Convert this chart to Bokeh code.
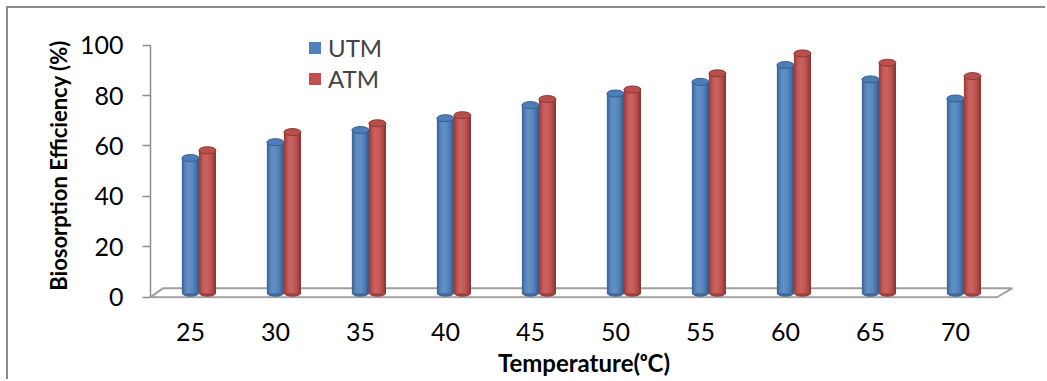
import numpy as np
from bokeh.plotting import figure
from bokeh.models import Range1d, Legend, LegendItem, FixedTicker
from bokeh.embed import file_html
from bokeh.resources import INLINE

# ---- data ----
temperatures = ["25", "30", "35", "40", "45", "50", "55", "60", "65", "70"]
utm = [55.2, 61.5, 66.3, 71.0, 76.2, 80.8, 85.4, 92.1, 86.4, 78.8]
atm = [58.3, 65.5, 69.0, 72.2, 78.6, 82.4, 88.8, 96.7, 93.0, 87.7]
y_ticks = [0, 20, 40, 60, 80, 100]

FONT = "Lato"
BLUE = "#4F81BD"
RED = "#C0504D"
GRAY = "#8C8C8C"

p = figure(width=1039, height=373, output_backend="svg", toolbar_location=None,
           x_range=Range1d(-0.47, 9.73), y_range=Range1d(-0.5, 105),
           min_border_left=142, min_border_right=30, min_border_top=24,
           min_border_bottom=83)
p.styles = {"border-left": "2px solid #8A8A8A", "border-top": "2px solid #8A8A8A",
            "margin-left": "6px", "margin-top": "6px"}
p.background_fill_color = "white"
p.border_fill_color = "white"
p.outline_line_color = None
p.grid.visible = False


def hex_to_rgb(h):
    h = h.lstrip("#")
    return [int(h[i:i + 2], 16) for i in (0, 2, 4)]


def shade(h, f):
    r = hex_to_rgb(h)
    if f <= 1:
        c = [int(round(v * f)) for v in r]
    else:
        a = f - 1
        c = [int(round(v + (255 - v) * a)) for v in r]
    return "#%02x%02x%02x" % tuple(max(0, min(255, v)) for v in c)


def factor(t):
    if t < 0.4:
        return 1.12 - 0.42 * ((0.4 - t) / 0.4) ** 2
    return 1.12 - 0.47 * ((t - 0.4) / 0.6) ** 2


# floor of the 3D plot
p.patch(x=[-0.47, 9.49, 9.67, -0.32], y=[0, 0, 3.6, 3.6],
        fill_color="white", line_color="#A0A0A0", line_width=2)

xs = np.arange(len(temperatures), dtype=float)
W = 0.2
BASE = 1.6
NSTRIP = 9

legend_items = []
for vals, offset, base_col, name in [(utm, 0.0, BLUE, "UTM"), (atm, W, RED, "ATM")]:
    cx = xs + offset
    vals = np.array(vals, dtype=float)
    p.ellipse(x=cx, y=[BASE] * len(cx), width=W, height=7, height_units="screen",
              fill_color=shade(base_col, 0.8), line_color=None)
    main = p.vbar(x=cx, top=vals, bottom=BASE, width=W, fill_color=base_col,
                  line_color=None)
    legend_items.append(LegendItem(label=name, renderers=[main]))
    sw = W / NSTRIP
    for k in range(NSTRIP):
        t = (k + 0.5) / NSTRIP
        p.vbar(x=cx - W / 2 + sw * (k + 0.5), top=vals, bottom=BASE, width=sw * 1.05,
               fill_color=shade(base_col, factor(t)), line_color=None)
    p.ellipse(x=cx, y=vals, width=W, height=7, height_units="screen",
              fill_color=shade(base_col, 0.97), line_color=shade(base_col, 0.72),
              line_width=1)

legend = Legend(items=legend_items, location=(157, 205))
legend.glyph_width = 15
legend.glyph_height = 15
legend.label_text_font = FONT
legend.label_text_font_size = "24px"
legend.label_standoff = 6
legend.spacing = 2
legend.padding = 0
legend.margin = 0
legend.border_line_color = None
legend.background_fill_alpha = 0
p.add_layout(legend)

# x axis
p.xaxis.ticker = FixedTicker(ticks=list(range(len(temperatures))))
p.xaxis.major_label_overrides = {i: t for i, t in enumerate(temperatures)}
p.xaxis.axis_line_color = None
p.xaxis.major_tick_line_color = None
p.xaxis.minor_tick_line_color = None
p.xaxis.major_label_text_font = FONT
p.xaxis.major_label_text_font_size = "25px"
p.xaxis.major_label_text_color = "black"
p.xaxis.major_label_standoff = 18
p.xaxis.axis_label = "Temperature(ᵒC)"
p.xaxis.axis_label_text_font = FONT
p.xaxis.axis_label_text_font_style = "bold"
p.xaxis.axis_label_text_font_size = "24px"
p.xaxis.axis_label_text_color = "black"
p.xaxis.axis_label_standoff = 4

# y axis
p.yaxis.ticker = FixedTicker(ticks=y_ticks)
p.yaxis.bounds = (0, 100)
p.yaxis.axis_line_color = GRAY
p.yaxis.axis_line_width = 1.5
p.yaxis.major_tick_line_color = GRAY
p.yaxis.major_tick_line_width = 1.5
p.yaxis.major_tick_out = 8
p.yaxis.major_tick_in = 0
p.yaxis.minor_tick_line_color = None
p.yaxis.major_label_text_font = FONT
p.yaxis.major_label_text_font_size = "25px"
p.yaxis.major_label_text_color = "black"
p.yaxis.major_label_standoff = 19
p.yaxis.axis_label = "Biosorption Efficiency (%)"
p.yaxis.axis_label_text_font = FONT
p.yaxis.axis_label_text_font_style = "bold"
p.yaxis.axis_label_text_font_size = "22px"
p.yaxis.axis_label_text_color = "black"
p.yaxis.axis_label_standoff = 5

open("out.html", "w").write(file_html(p, INLINE))
